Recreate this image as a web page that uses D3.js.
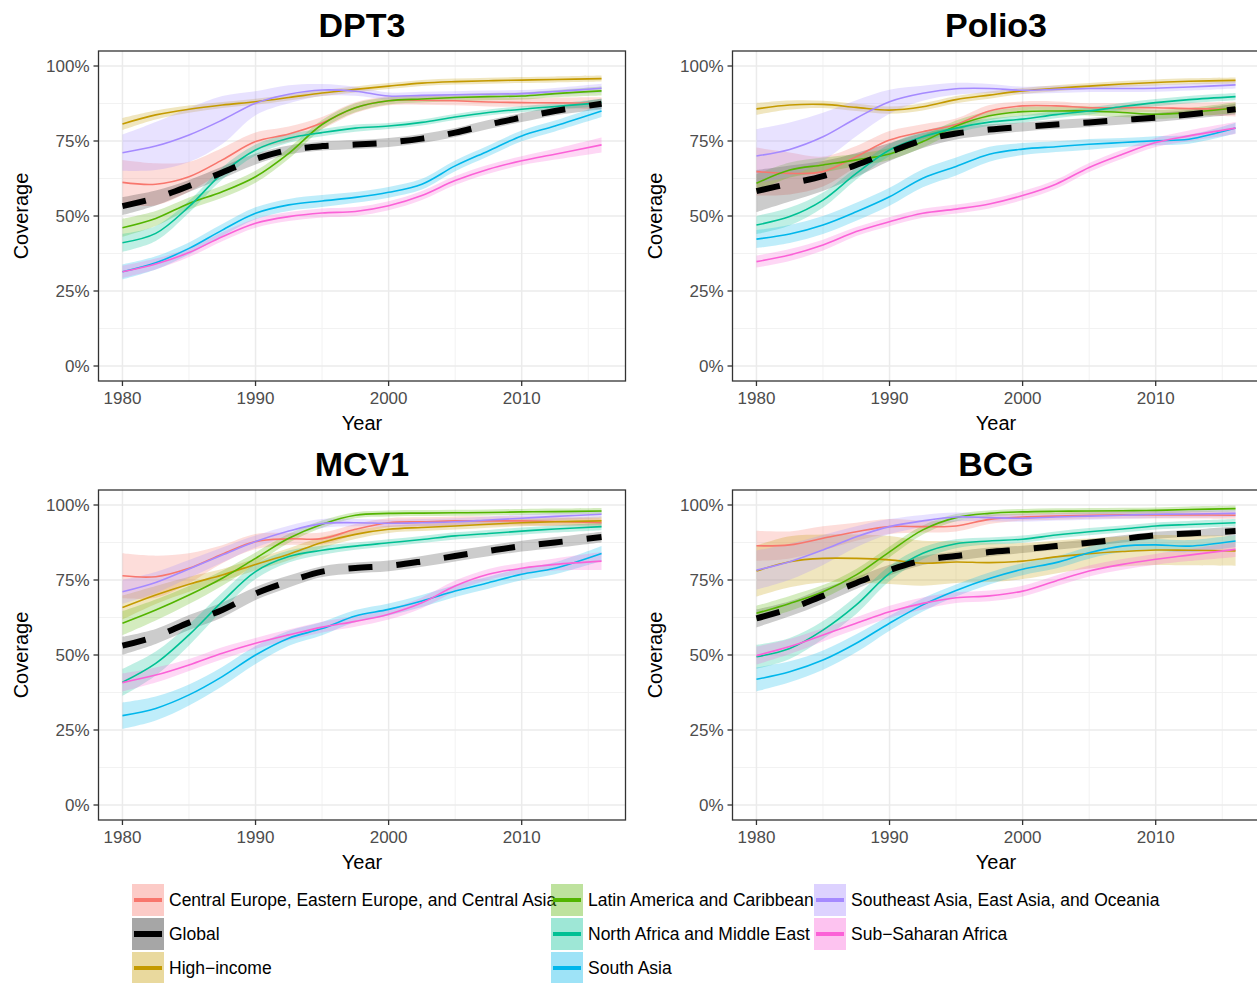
<!DOCTYPE html>
<html>
<head>
<meta charset="utf-8">
<script src="https://cdn.jsdelivr.net/npm/d3@7"></script>
<style>
body { margin: 0; background: #fff; }
text { font-family: "Liberation Sans", Arial, Helvetica, sans-serif; }
</style>
</head>
<body>
<svg id="chart" width="1257" height="983"></svg>
<script>
var years = [1980, 1982.5, 1985, 1987.5, 1990, 1992.5, 1995, 1997.5, 2000, 2002.5, 2005, 2007.5, 2010, 2012.5, 2016];

var groups = [
  "Central Europe, Eastern Europe, and Central Asia",
  "Global",
  "High\u2212income",
  "Latin America and Caribbean",
  "North Africa and Middle East",
  "South Asia",
  "Southeast Asia, East Asia, and Oceania",
  "Sub\u2212Saharan Africa"
];
var groupColors = ["#F8766D", "#000000", "#C49A00", "#53B400", "#00C094", "#00B6EB", "#A58AFF", "#FB61D7"];

var yTicks = [0, 25, 50, 75, 100];
var xTicks = [1980, 1990, 2000, 2010];

// coverage (%), one row per group in the order of `groups`
var dpt3 = [
  [61.2, 60.6, 63.1, 68.7, 74.8, 77.3, 81, 86.1, 88.4, 88.6, 88.4, 88.0, 87.8, 87.7, 87.6],
  [53.3, 56, 60, 64.5, 69, 72, 73.3, 73.8, 74.5, 75.8, 77.8, 80.5, 82.8, 85, 87.4],
  [80.7, 83.7, 85.6, 87, 88.1, 89.5, 91, 92.2, 93.3, 94.3, 94.8, 95.1, 95.3, 95.5, 95.8],
  [46.1, 49.2, 54.2, 58.1, 63.1, 70.9, 80.5, 86.1, 88.4, 89, 89.5, 89.8, 90.0, 90.8, 91.7],
  [41.1, 44.2, 53.1, 64.2, 72, 75.9, 77.8, 79.3, 80, 81.2, 83, 84.5, 85.6, 86.5, 87.8],
  [31.4, 34.4, 39.2, 45.3, 50.9, 53.7, 55, 56.2, 57.9, 60.6, 66.7, 71.7, 76.7, 80, 85],
  [71.1, 73.3, 77, 82, 87.6, 90.6, 92, 91.6, 90, 90.2, 90.4, 90.6, 90.8, 91.5, 92.6],
  [31.4, 34, 37.8, 43.1, 47.6, 49.8, 51, 51.5, 53.4, 56.8, 61.8, 65.6, 68.4, 70.6, 73.7]
];
var polio3 = [
  [64.8, 64.2, 64.8, 69.8, 75.3, 78.1, 80.5, 85, 86.7, 86.7, 86.1, 86.1, 86.1, 85.8, 85.6],
  [58.3, 60.8, 63.3, 67, 71.3, 75.2, 77.5, 78.8, 79.7, 80.5, 81.2, 82, 82.8, 83.8, 85.6],
  [85.7, 87, 87.2, 86.2, 85.3, 86.4, 88.8, 90.3, 91.7, 92.6, 93.3, 94, 94.5, 94.9, 95.2],
  [60.9, 65.3, 67, 68.7, 70.7, 74.8, 80, 83.4, 84.8, 85, 85, 84.5, 83.9, 84.5, 86.1],
  [47, 49.8, 55.3, 64.2, 72, 76.4, 79.3, 81.3, 82.3, 83.8, 85, 86.5, 87.8, 88.8, 89.8],
  [42.3, 44, 47, 51.4, 56.4, 62.6, 66.5, 70.6, 72.3, 73.1, 73.9, 74.5, 75.1, 75.6, 79.3],
  [70, 72.2, 76.4, 82.6, 88.1, 90.9, 92.4, 92.5, 91.9, 92.2, 92.5, 92.5, 92.6, 93, 93.7],
  [34.8, 37, 40.3, 44.8, 48.1, 50.9, 52.3, 54, 56.8, 60.6, 66.2, 70.6, 74.5, 76.7, 79.3]
];
var mcv1 = [
  [76.4, 76.1, 78.9, 83.6, 87.8, 88.7, 88.8, 91.9, 94.1, 94.4, 94.7, 94.7, 94.7, 94.5, 94.1],
  [53.1, 56.2, 60.8, 65, 70.5, 74.5, 77.8, 79, 79.7, 81.2, 83, 84.7, 86.3, 87.5, 89.3],
  [65.8, 70, 73.6, 76.7, 80.2, 83.6, 87.5, 90.2, 91.9, 92.5, 93, 93.6, 94.1, 94.4, 94.7],
  [60.6, 65, 70, 75.6, 82.2, 88.9, 93.6, 96.6, 97.2, 97.3, 97.4, 97.5, 97.7, 97.8, 98],
  [40.9, 47.2, 56.7, 67.8, 77.8, 82.8, 84.9, 86.3, 87.4, 88.5, 89.7, 90.5, 91.3, 92, 92.8],
  [29.8, 32.2, 36.7, 42.8, 50, 55.6, 58.8, 63, 65.2, 68, 71.3, 74.1, 76.9, 78.9, 83.8],
  [71.1, 74.2, 78.7, 83.3, 87.8, 91.3, 93.8, 94.1, 93.9, 94.1, 94.4, 95, 95.6, 96.2, 96.9],
  [40.8, 43.3, 46.7, 50.6, 53.9, 56.7, 59.3, 61.2, 63.6, 67.4, 73, 76.9, 78.9, 80.2, 81.3]
];
var bcg = [
  [86.4, 86.7, 88.9, 91.1, 92.8, 92.8, 93, 95.2, 96, 96.3, 96.6, 96.7, 96.7, 96.7, 96.6],
  [62.2, 65.4, 69.7, 74, 78.3, 81.5, 83, 84.3, 85.2, 86.3, 87.4, 88.7, 89.9, 90.5, 91.3],
  [78, 81.1, 82.2, 82.2, 81.7, 80.6, 81, 80.8, 81.3, 82.7, 83.8, 84.5, 85, 84.9, 84.7],
  [63.9, 67.2, 71.1, 76.7, 84.4, 91.7, 95.8, 97.2, 97.7, 97.9, 98, 98.1, 98.2, 98.5, 98.8],
  [49.4, 52.2, 58.3, 66.7, 77.2, 83.9, 87.1, 88, 88.6, 90, 91.1, 92, 93, 93.5, 94.1],
  [41.9, 44.4, 48.3, 53.9, 60.6, 66.7, 71.5, 75.5, 78.6, 80.8, 84.1, 86.3, 86.7, 86.3, 88],
  [78.3, 81.1, 85, 89.4, 92.8, 94.7, 96, 95.8, 95.6, 96, 96.3, 96.6, 96.9, 97, 97.2],
  [49.8, 52.8, 56.7, 60.6, 64.4, 67.2, 69.1, 69.7, 71.3, 74.7, 78, 80.2, 81.9, 83.3, 85.2]
];

// half width of the confidence band (%)
var dpt3Band = [
  [7.5, 7, 5, 4, 3, 2.5, 2, 1.8, 1.5, 1.5, 1.5, 1.5, 1.5, 1.8, 2],
  [3, 2.5, 2, 2, 1.8, 1.5, 1.5, 1.5, 1.5, 1.5, 1.5, 1.5, 1.5, 1.5, 1.8],
  [2, 1.5, 1.2, 1, 1, 1, 1, 1, 1, 1, 1, 1, 1, 1, 1],
  [3, 2.5, 2, 2, 2, 1.8, 1.5, 1.5, 1.2, 1.2, 1.2, 1.2, 1.2, 1.2, 1.5],
  [3, 2.5, 2, 2, 1.8, 1.5, 1.2, 1.2, 1, 1, 1, 1, 1, 1, 1.2],
  [2.5, 2.2, 2, 2, 2, 2, 2, 1.8, 1.8, 1.8, 1.8, 1.8, 1.8, 1.8, 2],
  [6, 8, 9, 8, 4, 3, 2, 1.5, 1.2, 1.2, 1.2, 1.2, 1.2, 1.2, 1.5],
  [2, 1.8, 1.5, 1.5, 1.5, 1.5, 1.5, 1.5, 1.5, 1.5, 1.5, 1.5, 1.5, 1.8, 2.5]
];
var polio3Band = [
  [8, 7, 5, 3.5, 3, 2.5, 2, 2, 1.5, 1.5, 1.5, 1.5, 1.5, 2, 2.5],
  [7, 6, 5, 4, 3, 2.5, 2, 1.8, 1.5, 1.5, 1.5, 1.5, 1.5, 1.5, 1.8],
  [2, 1.5, 1.2, 1.2, 1.2, 1.2, 1.2, 1.2, 1, 1, 1, 1, 1, 1, 1],
  [3, 2.5, 2.5, 2, 2, 2, 1.8, 1.5, 1.5, 1.5, 1.5, 1.5, 1.5, 1.5, 1.8],
  [3, 3, 2.5, 2, 2, 1.8, 1.5, 1.2, 1.2, 1.2, 1.2, 1.2, 1.2, 1.2, 1.2],
  [3, 3, 3, 3, 3, 3, 3, 2.5, 2, 1.8, 1.8, 1.5, 1.5, 1.5, 1.8],
  [9, 9, 8, 6, 4, 2.5, 2, 1.5, 1.2, 1.2, 1.2, 1.2, 1.2, 1.2, 1.2],
  [2, 2, 1.8, 1.5, 1.5, 1.5, 1.5, 1.5, 1.5, 1.5, 1.5, 1.5, 1.5, 1.8, 2]
];
var mcv1Band = [
  [7.5, 7, 5, 3, 2.5, 2, 2, 1.8, 1.5, 1.5, 1.5, 1.5, 1.5, 1.5, 1.5],
  [3, 2.5, 2.5, 2.5, 2.2, 2, 1.8, 1.8, 1.8, 1.8, 1.8, 1.8, 1.8, 1.8, 1.8],
  [4, 3, 2.5, 2, 2, 2, 1.8, 1.5, 1.2, 1.2, 1.2, 1.2, 1.2, 1.2, 1.5],
  [4, 3.5, 3, 2.5, 2, 1.5, 1.2, 1, 1, 1, 1, 1, 1, 1, 1],
  [4.5, 4, 3.5, 3, 2.5, 2, 1.5, 1.2, 1.2, 1.2, 1.2, 1.2, 1.2, 1.2, 1.2],
  [4.4, 4, 3.5, 3.2, 3, 2.5, 2.2, 2, 2, 2, 2, 2, 2, 2, 2.5],
  [4, 3.5, 3, 2.5, 2, 1.8, 1.5, 1.2, 1.2, 1.2, 1.2, 1.2, 1.2, 1.2, 1.2],
  [3, 2.5, 2, 2, 1.8, 1.8, 1.8, 1.8, 1.8, 1.8, 1.8, 1.8, 1.8, 2, 3]
];
var bcgBand = [
  [5, 4.5, 4, 3, 2.5, 2, 1.8, 1.5, 1.2, 1.2, 1.2, 1.2, 1.2, 1.2, 1.2],
  [3, 2.5, 2.5, 2, 1.8, 1.5, 1.5, 1.5, 1.2, 1.2, 1.2, 1.2, 1.2, 1.2, 1.5],
  [8.5, 8.5, 8, 8, 8, 7.5, 7, 6.5, 6, 5.5, 5, 5, 5, 5, 5],
  [2.5, 2.5, 2.2, 2, 1.8, 1.5, 1.2, 1, 1, 1, 1, 1, 1, 1, 1],
  [4, 3.5, 3, 3, 2.5, 2, 1.5, 1.2, 1.2, 1.2, 1.2, 1.2, 1.2, 1.2, 1.2],
  [4, 3.5, 3.2, 3, 2.5, 2.2, 2, 2, 2, 2, 2, 2, 2, 2, 2],
  [6.5, 6, 5, 3.5, 2.5, 2, 1.5, 1.2, 1.2, 1.2, 1.2, 1.2, 1.2, 1.2, 1.2],
  [3, 2.5, 2.2, 2, 2, 2, 1.8, 1.8, 1.8, 1.8, 1.8, 1.8, 1.8, 2, 2.5]
];

var panels = [
  { title: "DPT3", values: dpt3, band: dpt3Band, left: 98.5, top: 51 },
  { title: "Polio3", values: polio3, band: polio3Band, left: 732.5, top: 51 },
  { title: "MCV1", values: mcv1, band: mcv1Band, left: 98.5, top: 490 },
  { title: "BCG", values: bcg, band: bcgBand, left: 732.5, top: 490 }
];

var pw = 527, ph = 330;
var svg = d3.select("#chart");
var curve = d3.curveCatmullRom.alpha(0.5);

panels.forEach(function(p, pi) {
  var x = d3.scaleLinear().domain([1980 - 1.8, 2016 + 1.8]).range([0, pw]);
  var y = d3.scaleLinear().domain([-5, 105]).range([ph, 0]);

  var g = svg.append("g").attr("transform", "translate(" + p.left + "," + p.top + ")");

  g.append("clipPath").attr("id", "clip" + pi)
    .append("rect").attr("width", pw).attr("height", ph);

  // minor grid
  [12.5, 37.5, 62.5, 87.5].forEach(function(v) {
    g.append("line").attr("x1", 0).attr("x2", pw).attr("y1", y(v)).attr("y2", y(v))
      .attr("stroke", "#f2f2f2").attr("stroke-width", 1);
  });
  [1985, 1995, 2005, 2015].forEach(function(v) {
    g.append("line").attr("y1", 0).attr("y2", ph).attr("x1", x(v)).attr("x2", x(v))
      .attr("stroke", "#f2f2f2").attr("stroke-width", 1);
  });
  // major grid
  yTicks.forEach(function(v) {
    g.append("line").attr("x1", 0).attr("x2", pw).attr("y1", y(v)).attr("y2", y(v))
      .attr("stroke", "#ebebeb").attr("stroke-width", 1.5);
  });
  xTicks.forEach(function(v) {
    g.append("line").attr("y1", 0).attr("y2", ph).attr("x1", x(v)).attr("x2", x(v))
      .attr("stroke", "#ebebeb").attr("stroke-width", 1.5);
  });

  var plot = g.append("g").attr("clip-path", "url(#clip" + pi + ")");

  var area = d3.area()
    .x(function(d) { return x(d.year); })
    .y0(function(d) { return y(d.v - d.b); })
    .y1(function(d) { return y(d.v + d.b); })
    .curve(curve);
  var line = d3.line()
    .x(function(d) { return x(d.year); })
    .y(function(d) { return y(d.v); })
    .curve(curve);

  var series = groups.map(function(name, gi) {
    return years.map(function(yr, i) {
      return { year: yr, v: p.values[gi][i], b: p.band[gi][i] };
    });
  });

  series.forEach(function(s, gi) {
    plot.append("path").attr("d", area(s))
      .attr("fill", groupColors[gi])
      .attr("fill-opacity", gi === 1 ? 0.2 : 0.25)
      .attr("stroke", "none");
  });
  series.forEach(function(s, gi) {
    if (gi === 1) return;
    plot.append("path").attr("d", line(s))
      .attr("fill", "none")
      .attr("stroke", groupColors[gi])
      .attr("stroke-width", 1.6);
  });
  plot.append("path").attr("d", line(series[1]))
    .attr("fill", "none")
    .attr("stroke", "#000")
    .attr("stroke-width", 6)
    .attr("stroke-dasharray", "24,24");

  // border
  g.append("rect").attr("width", pw).attr("height", ph)
    .attr("fill", "none").attr("stroke", "#333").attr("stroke-width", 1.3);

  // axes
  yTicks.forEach(function(v) {
    g.append("line").attr("x1", -5).attr("x2", 0).attr("y1", y(v)).attr("y2", y(v))
      .attr("stroke", "#333").attr("stroke-width", 1.3);
    g.append("text").attr("x", -9).attr("y", y(v)).attr("dy", "0.35em")
      .attr("text-anchor", "end").attr("font-size", 17).attr("fill", "#4d4d4d")
      .text(v + "%");
  });
  xTicks.forEach(function(v) {
    g.append("line").attr("x1", x(v)).attr("x2", x(v)).attr("y1", ph).attr("y2", ph + 5)
      .attr("stroke", "#333").attr("stroke-width", 1.3);
    g.append("text").attr("x", x(v)).attr("y", ph + 23)
      .attr("text-anchor", "middle").attr("font-size", 17).attr("fill", "#4d4d4d")
      .text(v);
  });

  g.append("text").attr("x", pw / 2).attr("y", -14)
    .attr("text-anchor", "middle").attr("font-size", 34).attr("font-weight", "bold")
    .text(p.title);
  g.append("text").attr("x", pw / 2).attr("y", ph + 49)
    .attr("text-anchor", "middle").attr("font-size", 20)
    .text("Year");
  g.append("text")
    .attr("transform", "translate(-71," + (ph / 2) + ") rotate(-90)")
    .attr("text-anchor", "middle").attr("font-size", 20)
    .text("Coverage");
});

// legend, filled column by column
var legendCols = [132, 551, 814];
var legend = svg.append("g");
groups.forEach(function(name, gi) {
  var col = Math.floor(gi / 3), row = gi % 3;
  var lx = legendCols[col], ly = 884 + row * 34;
  var k = legend.append("g").attr("transform", "translate(" + lx + "," + ly + ")");
  k.append("rect").attr("width", 32).attr("height", 32)
    .attr("fill", groupColors[gi]).attr("fill-opacity", gi === 1 ? 0.35 : 0.38);
  k.append("line").attr("x1", 2).attr("x2", 30).attr("y1", 16).attr("y2", 16)
    .attr("stroke", groupColors[gi]).attr("stroke-width", gi === 1 ? 6 : 4);
  k.append("text").attr("x", 37).attr("y", 16).attr("dy", "0.35em")
    .attr("font-size", 17.5).text(name);
});
</script>
</body>
</html>
